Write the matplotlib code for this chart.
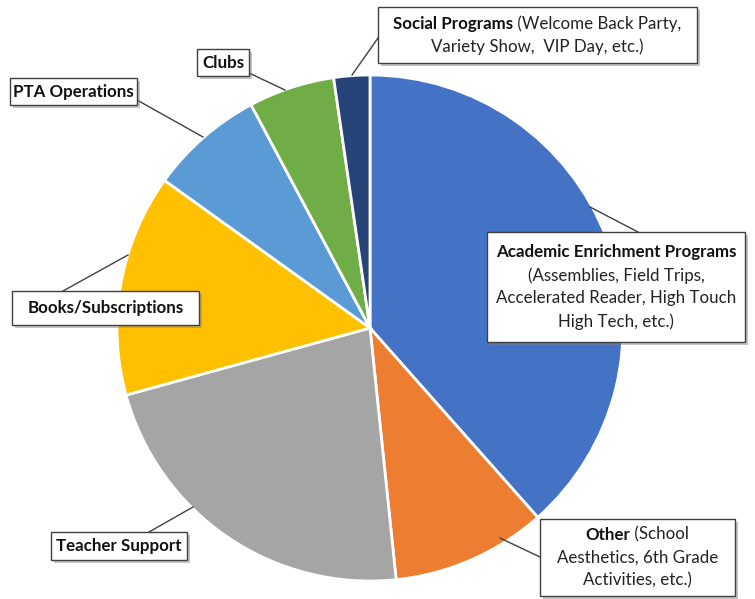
import matplotlib.pyplot as plt
from matplotlib.patches import Rectangle

# --- DATA (percent of budget) ---
categories = ["Academic Enrichment Programs", "Other", "Teacher Support",
              "Books/Subscriptions", "PTA Operations", "Clubs", "Social Programs"]
shares = [38.5, 9.9, 22.4, 14.2, 7.3, 5.5, 2.3]
colors = ["#4472C4", "#ED7D31", "#A5A5A5", "#FFC000", "#5B9BD5", "#70AD47", "#264478"]

# label text: list of lines, each line a list of (text, bold)
label_lines = {
    "Academic Enrichment Programs": [[("Academic Enrichment Programs", True)],
                                     [("(Assemblies, Field Trips,", False)],
                                     [("Accelerated Reader, High Touch", False)],
                                     [("High Tech, etc.)", False)]],
    "Other": [[("Other", True), (" (School", False)],
              [("Aesthetics, 6th Grade", False)],
              [("Activities, etc.)", False)]],
    "Teacher Support": [[("Teacher Support", True)]],
    "Books/Subscriptions": [[("Books/Subscriptions", True)]],
    "PTA Operations": [[("PTA Operations", True)]],
    "Clubs": [[("Clubs", True)]],
    "Social Programs": [[("Social Programs", True), (" (Welcome Back Party,", False)],
                        [("Variety Show,  VIP Day, etc.)", False)]],
}

# --- LAYOUT (pixel coords, y down) ---
W, H = 755, 599
center = (370, 328)
radius = 253
# box: (x0, y0, x1, y1) ; leader: (pie point, box point)
boxes = {
    "Academic Enrichment Programs": (487, 232, 745, 342),
    "Other": (540, 519, 735, 596),
    "Teacher Support": (51, 532, 187, 560),
    "Books/Subscriptions": (12, 291, 199, 325),
    "PTA Operations": (10, 78, 137, 105),
    "Clubs": (197, 49, 249, 76),
    "Social Programs": (378, 7, 697, 63),
}
leaders = {
    "Academic Enrichment Programs": ((590, 207), (638, 232)),
    "Other": ((500, 538), (540, 557)),
    "Teacher Support": ((193, 507), (149, 532)),
    "Books/Subscriptions": ((128, 255), (63, 291)),
    "PTA Operations": ((203, 137), (137, 100)),
    "Clubs": ((285, 90), (249, 73)),
    "Social Programs": ((352, 75), (378, 38)),
}

plt.rcParams['font.family'] = ['Lato', 'DejaVu Sans']
FS = 12.2
LINE_H = 23

fig = plt.figure(figsize=(W / 100, H / 100), dpi=100)
ax = fig.add_axes([0, 0, 1, 1])


def Y(y):
    return H - y


ax.pie(shares, colors=colors, startangle=90, counterclock=False,
       center=(center[0], Y(center[1])), radius=radius,
       wedgeprops=dict(edgecolor='white', linewidth=2), frame=True)
ax.set_xlim(0, W)
ax.set_ylim(0, H)
ax.set_aspect('equal')
ax.axis('off')

renderer = fig.canvas.get_renderer()

for name in categories:
    (px, py), (bx, by) = leaders[name]
    ax.plot([px, bx], [Y(py), Y(by)], color='#404040', lw=1, zorder=4)

    x0, y0, x1, y1 = boxes[name]
    ax.add_patch(Rectangle((x0 + 3, Y(y1) - 3), x1 - x0, y1 - y0,
                           facecolor='#808080', alpha=0.45, edgecolor='none', zorder=5))
    ax.add_patch(Rectangle((x0, Y(y1)), x1 - x0, y1 - y0,
                           facecolor='white', edgecolor='#404040', lw=1, zorder=6))

    lines = label_lines[name]
    cx = (x0 + x1) / 2
    cy = (y0 + y1) / 2
    top = cy - LINE_H * (len(lines) - 1) / 2
    for i, segs in enumerate(lines):
        ly = top + i * LINE_H
        texts = []
        for s, b in segs:
            t = ax.text(0, Y(ly), s, fontsize=FS, fontweight='bold' if b else 'normal',
                        color='#111111' if b else '#222222',
                        ha='left', va='center', zorder=7)
            texts.append(t)
        widths = [t.get_window_extent(renderer).width for t in texts]
        x = cx - sum(widths) / 2
        for t, w in zip(texts, widths):
            t.set_x(x)
            x += w

fig.savefig('out.png', dpi=100)
